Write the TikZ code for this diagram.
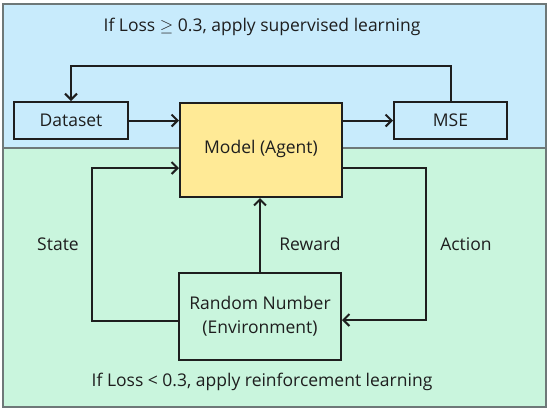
\documentclass[tikz,border=0pt]{standalone}
\usepackage{fontspec}
\setmainfont{Open Sans}
\usetikzlibrary{arrows.meta}
\definecolor{topblue}{RGB}{200,235,252}
\definecolor{botgreen}{RGB}{201,245,221}
\definecolor{modelyel}{RGB}{255,234,150}
\definecolor{framegray}{RGB}{110,120,120}
\definecolor{ink}{RGB}{30,30,30}
\tikzset{
  px/.style={x=1pt,y=-1pt},
  box/.style={draw=ink,line width=2pt,minimum height=#1,inner sep=0pt,font=\fontsize{17.5}{20}\selectfont,text=ink},
  conn/.style={draw=ink,line width=2pt,-{Straight Barb[length=6pt,width=12pt,line width=2pt]}},
  lbl/.style={font=\fontsize{17.5}{20}\selectfont,text=ink,inner sep=0pt}
}
\begin{document}
\begin{tikzpicture}[px]
\useasboundingbox (0,0) rectangle (550,413);
\fill[white] (0,0) rectangle (550,413);
\fill[topblue] (3,4) rectangle (546,148);
\fill[botgreen] (3,148) rectangle (546,407);
\draw[framegray,line width=1.2pt] (3,148) -- (546,148);
\draw[framegray,line width=1.5pt] (3,4) rectangle (546,407);

\node[lbl] (toptext) at (262,27) {If Loss $\geq$ 0.3, apply supervised learning};
\node[lbl] (bottext) at (262,382) {If Loss < 0.3, apply reinforcement learning};

\node[box=37pt,minimum width=114pt,fill=topblue] (dataset) at (71,120.5) {Dataset};
\node[box=94pt,minimum width=162pt,fill=modelyel,anchor=north] (model) at (261,102) {};
\node[lbl] (modeltext) at (261,149) {Model (Agent)};
\node[box=37pt,minimum width=113pt,fill=topblue] (mse) at (450.5,120.5) {MSE};
\node[box=87pt,minimum width=162pt,fill=botgreen,align=center] (env) at (260,316.5) {Random Number\\[4pt](Environment)};

\coordinate (tl) at (71,66);
\coordinate (tr) at (451,66);
\draw[conn] (mse.north -| tr) -- (tr) -- (tl) -- (dataset.north);
\draw[conn] (dataset.east) -- (dataset.east -| model.west);
\draw[conn] (model.east |- dataset.east) -- (mse.west);

\coordinate (sl) at (92,321);
\coordinate (st) at (92,168);
\draw[conn] (env.west |- sl) -- (sl) -- (st) -- (model.west |- st);
\draw[conn] (env.north) -- (env.north |- model.south);
\coordinate (ar) at (426,168);
\coordinate (ab) at (426,320);
\draw[conn] (model.east |- ar) -- (ar) -- (ab) -- (env.east |- ab);

\node[lbl] (state) at (58,244) {State};
\node[lbl] (reward) at (310,244) {Reward};
\node[lbl] (action) at (466,244) {Action};
\end{tikzpicture}
\end{document}
